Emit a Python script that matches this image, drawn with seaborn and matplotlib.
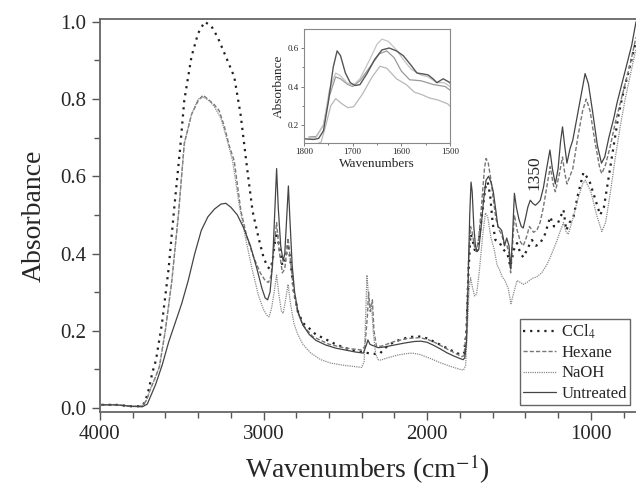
import numpy as np
import pandas as pd
import matplotlib
matplotlib.use("Agg")
import matplotlib.pyplot as plt
import seaborn as sns
from matplotlib.ticker import MultipleLocator

# --- spectra (wavenumber cm-1, absorbance) ---
wn_untreated = [3990, 3900, 3800, 3740, 3710, 3690, 3660, 3620, 3580, 3540, 3500, 3460, 3420, 3380,
                3340, 3300, 3260, 3230, 3200, 3160, 3120, 3080, 3040, 3010, 2990, 2975, 2960, 2945,
                2930, 2920, 2910, 2895, 2880, 2870, 2855, 2848, 2840, 2825, 2810, 2790, 2760, 2720,
                2680, 2620, 2560, 2500, 2440, 2390, 2370, 2362, 2350, 2335, 2320, 2300, 2260, 2200,
                2140, 2080, 2040, 2000, 1960, 1920, 1880, 1840, 1800, 1780, 1770, 1760, 1750, 1740,
                1732, 1725, 1715, 1705, 1695, 1685, 1670, 1655, 1640, 1625, 1610, 1596, 1580, 1568,
                1555, 1545, 1535, 1527, 1514, 1500, 1490, 1480, 1467, 1455, 1440, 1425, 1413, 1400,
                1385, 1370, 1355, 1339, 1325, 1309, 1290, 1270, 1250, 1235, 1217, 1200, 1185, 1173,
                1160, 1146, 1128, 1110, 1090, 1060, 1035, 1015, 990, 960, 935, 915, 890, 860, 840,
                810, 780, 750, 724]
ab_untreated = [0.008, 0.008, 0.004, 0.003, 0.01, 0.03, 0.06, 0.11, 0.17, 0.22, 0.27, 0.33, 0.40, 0.46,
                0.495, 0.515, 0.528, 0.53, 0.52, 0.50, 0.465, 0.42, 0.36, 0.31, 0.285, 0.28, 0.30, 0.37,
                0.52, 0.62, 0.52, 0.42, 0.38, 0.40, 0.52, 0.575, 0.50, 0.37, 0.30, 0.25, 0.215, 0.19,
                0.175, 0.163, 0.155, 0.15, 0.145, 0.142, 0.165, 0.176, 0.165, 0.162, 0.16, 0.156, 0.158, 0.163,
                0.168, 0.172, 0.173, 0.17, 0.162, 0.153, 0.143, 0.135, 0.128, 0.125, 0.13, 0.17, 0.32, 0.50,
                0.585, 0.56, 0.47, 0.42, 0.405, 0.41, 0.47, 0.54, 0.59, 0.60, 0.585, 0.56, 0.51, 0.47,
                0.465, 0.46, 0.44, 0.42, 0.44, 0.42, 0.36, 0.43, 0.556, 0.52, 0.49, 0.47, 0.466, 0.49,
                0.52, 0.538, 0.53, 0.525, 0.53, 0.538, 0.57, 0.62, 0.668, 0.62, 0.58, 0.62, 0.69, 0.728,
                0.68, 0.634, 0.67, 0.694, 0.74, 0.81, 0.866, 0.84, 0.77, 0.68, 0.634, 0.65, 0.70, 0.75, 0.79,
                0.84, 0.89, 0.94, 1.0]

wn_ccl4 = [3990, 3900, 3800, 3740, 3720, 3700, 3680, 3657, 3620, 3580, 3545, 3510, 3484, 3440, 3400,
           3360, 3320, 3280, 3240, 3179, 3140, 3100, 3067, 3030, 3000, 2975, 2960, 2945, 2930, 2920,
           2905, 2885, 2870, 2850, 2835, 2815, 2790, 2760, 2730, 2680, 2630, 2560, 2500, 2440, 2400,
           2360, 2320, 2290, 2270, 2230, 2160, 2100, 2040, 2000, 1940, 1880, 1820, 1790, 1775, 1760,
           1748, 1735, 1725, 1710, 1700, 1685, 1665, 1645, 1630, 1615, 1600, 1583, 1560, 1534, 1510,
           1492, 1470, 1451, 1430, 1412, 1390, 1360, 1335, 1309, 1280, 1248, 1225, 1200, 1167, 1150,
           1130, 1106, 1080, 1045, 1010, 980, 943, 920, 890, 860, 830, 800, 770, 724]
ab_ccl4 = [0.008, 0.008, 0.004, 0.005, 0.02, 0.05, 0.09, 0.124, 0.22, 0.36, 0.52, 0.67, 0.797, 0.91, 0.97,
           1.0, 0.99, 0.96, 0.92, 0.858, 0.76, 0.62, 0.51, 0.44, 0.39, 0.365, 0.36, 0.38, 0.43, 0.455,
           0.42, 0.37, 0.375, 0.425, 0.38, 0.30, 0.25, 0.22, 0.21, 0.19, 0.18, 0.165, 0.155, 0.148, 0.145,
           0.142, 0.14, 0.14, 0.15, 0.165, 0.178, 0.184, 0.185, 0.18, 0.168, 0.155, 0.142, 0.138, 0.14, 0.20,
           0.35, 0.45, 0.44, 0.41, 0.40, 0.43, 0.50, 0.57, 0.585, 0.55, 0.48, 0.435, 0.43, 0.41, 0.40,
           0.366, 0.41, 0.427, 0.40, 0.39, 0.41, 0.435, 0.42, 0.427, 0.45, 0.495, 0.47, 0.48, 0.513, 0.46,
           0.48, 0.495, 0.55, 0.61, 0.59, 0.55, 0.50, 0.52, 0.60, 0.68, 0.76, 0.82, 0.87, 0.95]

wn_hexane = [3990, 3900, 3800, 3740, 3715, 3690, 3660, 3636, 3600, 3560, 3520, 3484, 3440, 3400, 3370,
             3340, 3300, 3271, 3240, 3210, 3179, 3138, 3100, 3060, 3020, 2990, 2970, 2955, 2940, 2920,
             2905, 2885, 2870, 2850, 2835, 2815, 2793, 2760, 2700, 2600, 2500, 2400, 2380, 2365, 2358,
             2348, 2335, 2325, 2310, 2280, 2200, 2120, 2050, 2000, 1940, 1880, 1820, 1790, 1775, 1760,
             1748, 1735, 1725, 1712, 1700, 1685, 1665, 1650, 1640, 1627, 1610, 1596, 1580, 1560, 1545,
             1527, 1512, 1500, 1490, 1480, 1467, 1450, 1430, 1413, 1395, 1375, 1350, 1330, 1310, 1290,
             1270, 1248, 1230, 1217, 1195, 1173, 1160, 1146, 1128, 1110, 1080, 1050, 1028, 1005, 975,
             945, 933, 910, 880, 850, 820, 790, 760, 724]
ab_hexane = [0.008, 0.008, 0.004, 0.005, 0.02, 0.05, 0.08, 0.107, 0.20, 0.33, 0.50, 0.685, 0.76, 0.795, 0.81,
             0.80, 0.785, 0.77, 0.73, 0.68, 0.64, 0.51, 0.44, 0.39, 0.35, 0.33, 0.325, 0.34, 0.40, 0.48,
             0.41, 0.35, 0.36, 0.44, 0.38, 0.30, 0.25, 0.215, 0.185, 0.165, 0.155, 0.15, 0.16, 0.24, 0.30,
             0.25, 0.28, 0.20, 0.16, 0.16, 0.172, 0.18, 0.182, 0.178, 0.167, 0.153, 0.14, 0.133, 0.135, 0.20,
             0.38, 0.47, 0.455, 0.42, 0.405, 0.44, 0.54, 0.62, 0.646, 0.635, 0.59, 0.54, 0.49, 0.46, 0.45,
             0.42, 0.42, 0.40, 0.35, 0.41, 0.50, 0.46, 0.43, 0.42, 0.44, 0.47, 0.455, 0.46, 0.48, 0.52,
             0.57, 0.625, 0.58, 0.56, 0.60, 0.65, 0.61, 0.58, 0.60, 0.62, 0.70, 0.77, 0.80, 0.77, 0.69,
             0.62, 0.607, 0.63, 0.68, 0.74, 0.79, 0.84, 0.89, 0.96]

wn_naoh = [3990, 3900, 3800, 3740, 3715, 3690, 3660, 3636, 3600, 3560, 3520, 3484, 3440, 3400, 3365,
           3330, 3300, 3260, 3220, 3189, 3150, 3110, 3070, 3030, 3000, 2980, 2966, 2950, 2935, 2920,
           2905, 2890, 2880, 2865, 2850, 2835, 2815, 2793, 2760, 2711, 2650, 2589, 2500, 2400, 2385,
           2375, 2368, 2360, 2350, 2340, 2330, 2315, 2300, 2284, 2240, 2180, 2120, 2091, 2040, 1980,
           1920, 1860, 1800, 1778, 1765, 1755, 1745, 1735, 1722, 1710, 1698, 1680, 1660, 1644, 1630,
           1610, 1590, 1573, 1560, 1542, 1525, 1505, 1488, 1470, 1451, 1430, 1412, 1390, 1360, 1329,
           1300, 1270, 1248, 1210, 1185, 1167, 1150, 1138, 1110, 1080, 1050, 1034, 1000, 965, 933,
           910, 880, 850, 820, 790, 760, 724]
ab_naoh = [0.008, 0.008, 0.004, 0.005, 0.02, 0.05, 0.08, 0.107, 0.20, 0.33, 0.50, 0.685, 0.76, 0.80, 0.805,
           0.795, 0.78, 0.75, 0.69, 0.64, 0.53, 0.44, 0.36, 0.29, 0.255, 0.24, 0.236, 0.26, 0.30, 0.344,
           0.29, 0.25, 0.245, 0.28, 0.32, 0.27, 0.22, 0.193, 0.165, 0.142, 0.125, 0.116, 0.11, 0.105, 0.12,
           0.25, 0.344, 0.30, 0.26, 0.27, 0.20, 0.14, 0.125, 0.124, 0.13, 0.137, 0.141, 0.142, 0.138, 0.128,
           0.117, 0.108, 0.10, 0.098, 0.11, 0.20, 0.30, 0.337, 0.31, 0.29, 0.295, 0.36, 0.45, 0.505, 0.495,
           0.44, 0.41, 0.37, 0.36, 0.34, 0.33, 0.31, 0.27, 0.30, 0.33, 0.325, 0.32, 0.325, 0.335, 0.34,
           0.35, 0.37, 0.39, 0.43, 0.46, 0.48, 0.455, 0.45, 0.49, 0.54, 0.58, 0.59, 0.56, 0.50, 0.457,
           0.48, 0.56, 0.65, 0.73, 0.80, 0.86, 0.93]

series_names = ["CCl$_4$", "Hexane", "NaOH", "Untreated"]
series_wn = [wn_ccl4, wn_hexane, wn_naoh, wn_untreated]
series_ab = [ab_ccl4, ab_hexane, ab_naoh, ab_untreated]

# long-form table for seaborn
frames = []
for name, wn, ab in zip(series_names, series_wn, series_ab):
    frames.append(pd.DataFrame({"wn": wn, "ab": ab, "sample": name}))
df = pd.concat(frames, ignore_index=True)

styles = {
    "CCl$_4$":   dict(color="#222222", ls=(0, (1, 2.2)), lw=1.6),
    "Hexane":    dict(color="#777777", ls=(0, (3, 1.5)), lw=1.0),
    "NaOH":      dict(color="#8a8a8a", ls=(0, (1, 0.8)), lw=0.9),
    "Untreated": dict(color="#444444", ls="-", lw=0.9),
}
inset_colors = {"CCl$_4$": "#9a9a9a", "Hexane": "#c4c4c4",
                "NaOH": "#b8b8b8", "Untreated": "#555555"}

sns.set_style("ticks")
plt.rcParams["font.family"] = ["Liberation Serif", "DejaVu Serif"]
plt.rcParams["mathtext.fontset"] = "stix"

fig = plt.figure(figsize=(6.36, 4.91), dpi=100)
ax = fig.add_axes([0.157, 0.161, 0.843, 0.800])

for name in series_names:
    st = styles[name]
    sub = df[df["sample"] == name]
    sns.lineplot(data=sub, x="wn", y="ab", ax=ax, sort=False, estimator=None,
                 color=st["color"], linestyle=st["ls"], linewidth=st["lw"], label=name)

ax.set_xlim(4000, 724)
ax.set_ylim(-0.0104, 1.007)
ax.xaxis.set_major_locator(MultipleLocator(1000))
ax.xaxis.set_minor_locator(MultipleLocator(200))
ax.yaxis.set_major_locator(MultipleLocator(0.2))
ax.yaxis.set_minor_locator(MultipleLocator(0.1))
ax.yaxis.set_major_formatter(matplotlib.ticker.FormatStrFormatter("%.1f"))
ax.tick_params(which="major", labelsize=15, length=6, width=1, color="#555555")
ax.tick_params(which="minor", length=4, width=1, color="#555555")
ax.set_xlabel("Wavenumbers (cm$^{-1}$)", fontsize=20, labelpad=6)
ax.set_ylabel("Absorbance", fontsize=20, labelpad=10)
for side in ["left", "bottom", "top"]:
    ax.spines[side].set_color("#666666")
    ax.spines[side].set_linewidth(1.3)
ax.spines["right"].set_visible(False)

ax.text(1345, 0.565, "1350", rotation=90, ha="center", va="bottom", fontsize=12.5)

leg = ax.legend(loc="lower right", bbox_to_anchor=(0.989, 0.018), borderaxespad=0,
                fontsize=12, handlelength=2.0, handletextpad=0.3, labelspacing=0.25,
                borderpad=0.2, fancybox=False, framealpha=1, edgecolor="#666666")
leg.get_frame().set_linewidth(1.0)

# --- inset: carbonyl / amide region ---
axin = fig.add_axes([0.478, 0.709, 0.2296, 0.232])
for name in series_names:
    sub = df[(df["sample"] == name) & (df["wn"] <= 1810) & (df["wn"] >= 1480)]
    sns.lineplot(data=sub, x="wn", y="ab", ax=axin, sort=False, estimator=None,
                 color=inset_colors[name], linewidth=1.0 if name == "Untreated" else 0.9,
                 legend=False)
axin.set_xlim(1800, 1500)
axin.set_ylim(0.107, 0.699)
axin.xaxis.set_major_locator(MultipleLocator(100))
axin.xaxis.set_minor_locator(MultipleLocator(50))
axin.yaxis.set_major_locator(MultipleLocator(0.2))
axin.yaxis.set_minor_locator(MultipleLocator(0.1))
axin.yaxis.set_major_formatter(matplotlib.ticker.FormatStrFormatter("%.1f"))
axin.tick_params(which="major", labelsize=6.5, length=2.5, width=0.6, pad=1.5, color="#666666")
axin.tick_params(which="minor", length=1.5, width=0.6, color="#666666")
axin.set_xlabel("Wavenumbers", fontsize=9.5, labelpad=1)
axin.set_ylabel("Absorbance", fontsize=9.5, labelpad=2)
for side in axin.spines.values():
    side.set_color("#888888")
    side.set_linewidth(0.8)

fig.savefig("out.png", dpi=100)
